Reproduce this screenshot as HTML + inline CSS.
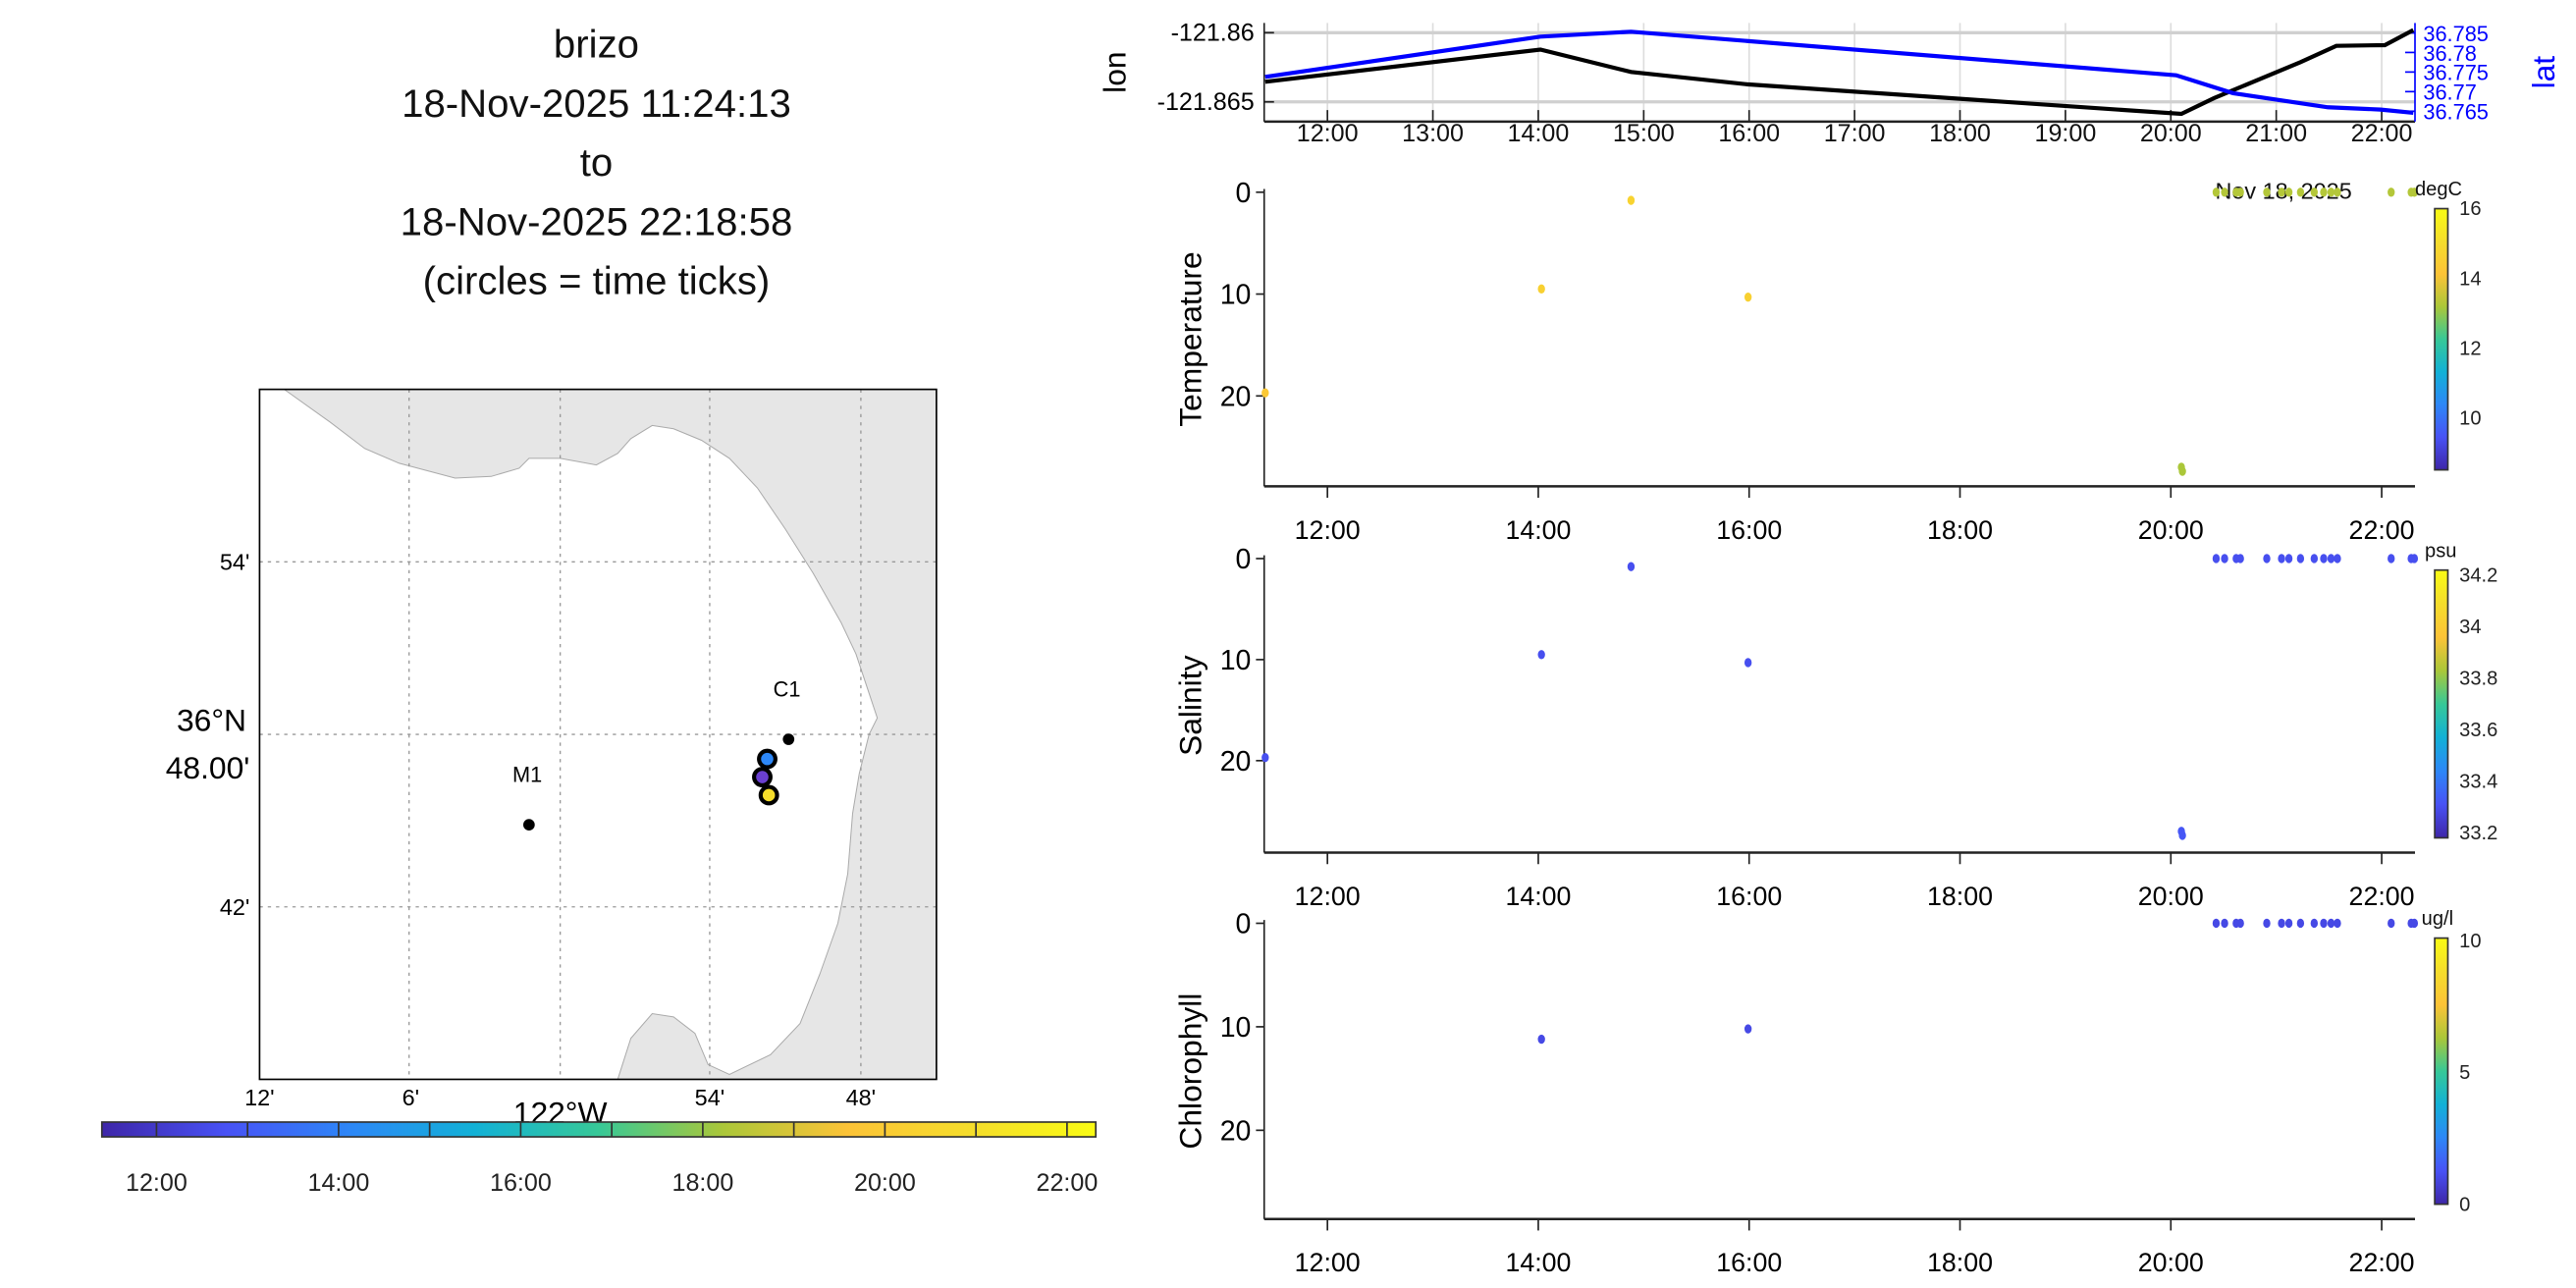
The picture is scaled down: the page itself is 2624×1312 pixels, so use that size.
<!DOCTYPE html>
<html><head><meta charset="utf-8"><style>
html,body{margin:0;padding:0;background:#fff;}
svg{display:block;font-family:"Liberation Sans",sans-serif;}
</style></head><body>
<svg id="s" width="2624" height="1312" viewBox="0 0 1568 784" xmlns="http://www.w3.org/2000/svg">
<defs>
<linearGradient id="parH" x1="0" y1="0" x2="1" y2="0">
<stop offset="0" stop-color="#3e26a8"/><stop offset="0.125" stop-color="#4852f5"/><stop offset="0.25" stop-color="#2d87f7"/><stop offset="0.375" stop-color="#12b1d6"/><stop offset="0.5" stop-color="#37c897"/><stop offset="0.625" stop-color="#abc739"/><stop offset="0.75" stop-color="#fcc337"/><stop offset="0.875" stop-color="#f5dd2b"/><stop offset="1" stop-color="#f9fb14"/></linearGradient>
<linearGradient id="parV" x1="0" y1="1" x2="0" y2="0">
<stop offset="0" stop-color="#3e26a8"/><stop offset="0.125" stop-color="#4852f5"/><stop offset="0.25" stop-color="#2d87f7"/><stop offset="0.375" stop-color="#12b1d6"/><stop offset="0.5" stop-color="#37c897"/><stop offset="0.625" stop-color="#abc739"/><stop offset="0.75" stop-color="#fcc337"/><stop offset="0.875" stop-color="#f5dd2b"/><stop offset="1" stop-color="#f9fb14"/></linearGradient>
</defs>
<g font-size="24" text-anchor="middle" fill="#111">
<text x="363" y="35">brizo</text><text x="363" y="71">18-Nov-2025 11:24:13</text><text x="363" y="107">to</text><text x="363" y="143">18-Nov-2025 22:18:58</text><text x="363" y="179">(circles = time ticks)</text>
</g>
<g id="mapg"></g>
<g id="cbar"></g>
<g id="topg"></g>
<g id="prof"></g>
</svg>
<script>
// ---- data ----
const lonTimes=[11.41,14.02,14.88,15.98,20.10,20.41,21.23,21.57,22.03,22.30];
const lonVals=[-121.86355,-121.86122,-121.86284,-121.86373,-121.86587,-121.86473,-121.86213,-121.86095,-121.8609,-121.85981];
const latTimes=[11.41,14.02,14.88,20.05,20.59,21.49,21.99,22.30];
const latVals=[36.77376,36.78404,36.78529,36.77418,36.76961,36.76601,36.76542,36.76458];
const profTimes=[11.41,14.03,14.88,15.99,20.10,20.11,20.43,20.51,20.62,20.66,20.91,21.05,21.12,21.23,21.36,21.45,21.52,21.58,22.09,22.28,22.31];
const profDepths=[19.7,9.5,0.8,10.3,27.0,27.4,0,0,0,0,0,0,0,0,0,0,0,0,0,0,0];
const tempVals=[14.3,14.6,14.7,14.6,13.2,13.2,13.3,13.3,13.3,13.3,13.3,13.3,13.3,13.3,13.3,13.3,13.3,13.3,13.3,13.3,13.3];
const salVals=[33.3,33.3,33.3,33.3,33.32,33.32,33.3,33.3,33.3,33.3,33.3,33.3,33.3,33.3,33.3,33.3,33.3,33.3,33.3,33.3,33.3];
const chlTimes=[14.03,15.99,20.43,20.51,20.62,20.66,20.91,21.05,21.12,21.23,21.36,21.45,21.52,21.58,22.09,22.28,22.31];
const chlDepths=[11.2,10.2,0,0,0,0,0,0,0,0,0,0,0,0,0,0,0];
const chlVals=[1,1,1,1,1,1,1,1,1,1,1,1,1,1,1,1,1];
const hourTicks=[12,13,14,15,16,17,18,19,20,21,22];
const evenTicks=[12,14,16,18,20,22];
const lonTicks=[-121.86,-121.865];
const latTicks=[36.785,36.78,36.775,36.77,36.765];
const mapLonTicks=["12'","6'","","54'","48'"];
const mapLatTicks=["54'","48.00'","42'"];
const tempCbTicks=[16,14,12,10];
const salCbTicks=[34.2,34,33.8,33.6,33.4,33.2];
const chlCbTicks=[10,5,0];
const mapPoints=[[480,450,'#000',0],[467,462,'#2d87f7',1],[464,473,'#6a3fd0',1],[468,484,'#f5dd2b',1],[322,502,'#000',0]];

const NS="http://www.w3.org/2000/svg";
function E(p,t,a,txt){const e=document.createElementNS(NS,t);for(const k in a)e.setAttribute(k,a[k]);if(txt!==undefined)e.textContent=txt;p.appendChild(e);return e;}
const stops=[[0,[62,38,168]],[0.125,[72,82,245]],[0.25,[45,135,247]],[0.375,[18,177,214]],[0.5,[55,200,151]],[0.625,[171,199,57]],[0.75,[252,195,55]],[0.875,[245,221,43]],[1,[249,251,20]]];
function parula(t){t=Math.max(0,Math.min(1,t));for(let i=1;i<stops.length;i++){if(t<=stops[i][0]){const a=stops[i-1],b=stops[i],f=(t-a[0])/(b[0]-a[0]);const c=a[1].map((v,j)=>Math.round(v+(b[1][j]-v)*f));return`rgb(${c})`;}}return'rgb(249,251,20)';}
const X0=769.5,X1=1470,T0=11.4,T1=22.316;
const xT=t=>X0+(t-T0)/(T1-T0)*(X1-X0);
const hh=h=>(h<10?'0':'')+h+':00';

// ---- map ----
const mapG=document.getElementById('mapg');
E(mapG,'rect',{x:158,y:237,width:412,height:420,fill:'#fff'});
const coast=[[173,237],[201,257],[222,273],[243,282],[277,291],[299,290],[316,285],[322,279],[341,279],[363,283],[376,276],[384,267],[397,259],[410,261],[427,268],[444,279],[461,297],[478,322],[495,349],[512,379],[521,398],[529,422],[534,437],[529,447],[523,471],[519,495],[516,532],[510,562],[499,593],[487,623],[469,642],[444,654],[431,648],[423,629],[410,619],[397,617],[384,632],[376,657],[570,657],[570,237]];
let land=E(mapG,'polygon',{points:coast.map(p=>p.join(',')).join(' '),fill:'#e6e6e6',stroke:'#aaa','stroke-width':0.6});


[249,341,432,524].forEach(x=>E(mapG,'line',{x1:x,y1:237,x2:x,y2:657,stroke:'#999','stroke-dasharray':'2,3','stroke-width':0.8}));
[342,447,552].forEach(y=>E(mapG,'line',{x1:158,y1:y,x2:570,y2:y,stroke:'#999','stroke-dasharray':'2,3','stroke-width':0.8}));
E(mapG,'rect',{x:158,y:237,width:412,height:420,fill:'none',stroke:'#000','stroke-width':1});
[158,250,341,432,524].forEach((x,i)=>{if(mapLonTicks[i])E(mapG,'text',{x:x,y:673,'font-size':14,'text-anchor':'middle'},mapLonTicks[i]);});
E(mapG,'text',{x:341,y:684,'font-size':19,'text-anchor':'middle'},'122\u00B0W');
E(mapG,'text',{x:152,y:347,'font-size':14,'text-anchor':'end'},mapLatTicks[0]);
E(mapG,'text',{x:150,y:445,'font-size':19,'text-anchor':'end'},'36\u00B0N');
E(mapG,'text',{x:152,y:474,'font-size':19,'text-anchor':'end'},mapLatTicks[1]);
E(mapG,'text',{x:152,y:557,'font-size':14,'text-anchor':'end'},mapLatTicks[2]);
E(mapG,'text',{x:479,y:424,'font-size':13,'text-anchor':'middle'},'C1');
E(mapG,'text',{x:321,y:476,'font-size':13,'text-anchor':'middle'},'M1');
mapPoints.forEach(p=>{const c=E(mapG,'circle',p[3]?{cx:p[0],cy:p[1],r:5,fill:p[2],stroke:'#000','stroke-width':2.5}:{cx:p[0],cy:p[1],r:3.5,fill:'#000'});

});

// ---- time colorbar ----
const cbG=document.getElementById('cbar');
E(cbG,'rect',{x:62,y:683,width:605,height:9,fill:'url(#parH)',stroke:'#333','stroke-width':1});
const cx=t=>62+(t-T0)/(T1-T0)*605;
evenTicks.forEach(t=>{E(cbG,'line',{x1:cx(t),y1:683,x2:cx(t),y2:692,stroke:'#333'});E(cbG,'text',{x:cx(t),y:725,'font-size':15,'text-anchor':'middle',fill:'#222'},hh(t));});
[13,15,17,19,21].forEach(t=>E(cbG,'line',{x1:cx(t),y1:683,x2:cx(t),y2:692,stroke:'#333'}));

// ---- top lon/lat panel ----
const topG=document.getElementById('topg');
const yLon=v=>19.9+(-121.86-v)/0.001*8.42;
const yLat=v=>20+(36.785-v)/0.001*2.385;
hourTicks.forEach(h=>E(topG,'line',{x1:xT(h),y1:14,x2:xT(h),y2:71,stroke:'#ddd','stroke-width':1}));
lonTicks.forEach(v=>E(topG,'line',{x1:X0,y1:yLon(v),x2:X1,y2:yLon(v),stroke:'#d0d0d0','stroke-width':2}));
E(topG,'line',{x1:X0,y1:14,x2:X0,y2:74,stroke:'#222'});
E(topG,'line',{x1:X0,y1:74,x2:X1,y2:74,stroke:'#222','stroke-width':1.5});
E(topG,'line',{x1:X1,y1:14,x2:X1,y2:74,stroke:'#00f'});
hourTicks.forEach(h=>{E(topG,'line',{x1:xT(h),y1:67,x2:xT(h),y2:74,stroke:'#222'});E(topG,'text',{x:xT(h),y:86,'font-size':15,'text-anchor':'middle',fill:'#111'},hh(h));});
lonTicks.forEach(v=>{E(topG,'line',{x1:X0,y1:yLon(v),x2:X0+6,y2:yLon(v),stroke:'#222'});E(topG,'text',{x:X0-6,y:yLon(v)+5,'font-size':15,'text-anchor':'end'},String(v));});
latTicks.forEach(v=>{E(topG,'line',{x1:X1,y1:yLat(v),x2:X1-6,y2:yLat(v),stroke:'#00f'});E(topG,'text',{x:X1+5,y:yLat(v)+5,'font-size':13,fill:'#00f'},String(v));});
E(topG,'text',{x:685,y:44,'font-size':19,'text-anchor':'middle',transform:'rotate(-90 685 44)'},'lon');
E(topG,'text',{x:1555,y:44,'font-size':19,'text-anchor':'middle',fill:'#00f',transform:'rotate(-90 1555 44)'},'lat');
let lonL=E(topG,'polyline',{points:lonTimes.map((t,i)=>xT(t)+','+yLon(lonVals[i])).join(' '),fill:'none',stroke:'#000','stroke-width':2.5});


let latL=E(topG,'polyline',{points:latTimes.map((t,i)=>xT(t)+','+yLat(latVals[i])).join(' '),fill:'none',stroke:'#00f','stroke-width':2.5});



// ---- profile panels ----
const prof=document.getElementById('prof');
function panel(name,y0,y20,yb,times,depths,vals,vmin,vmax,cbTop,cbBot,cbTicks,unit,ux,dateLbl){
  const g=E(prof,'g',{});
  
  
  const yD=d=>y0+d/20*(y20-y0);
  E(g,'line',{x1:X0,y1:y0-2,x2:X0,y2:yb,stroke:'#222'});
  E(g,'line',{x1:X0,y1:yb,x2:X1,y2:yb,stroke:'#222','stroke-width':1.5});
  [0,10,20].forEach(d=>{E(g,'line',{x1:X0-5,y1:yD(d),x2:X0,y2:yD(d),stroke:'#222'});E(g,'text',{x:X0-8,y:yD(d)+6,'font-size':17,'text-anchor':'end'},String(d));});
  evenTicks.forEach(h=>{E(g,'line',{x1:xT(h),y1:yb,x2:xT(h),y2:yb+7,stroke:'#222'});E(g,'text',{x:xT(h),y:yb+32,'font-size':16,'text-anchor':'middle'},hh(h));});
  const ym=(y0+yb)/2;
  E(g,'text',{x:731,y:ym,'font-size':19,'text-anchor':'middle',transform:`rotate(-90 731 ${ym})`},name);
  if(dateLbl)E(g,'text',{x:1390,y:y0+4,'font-size':14,'text-anchor':'middle',fill:'#111'},dateLbl);
  times.forEach((t,i)=>{const c=E(g,'ellipse',{cx:xT(t),cy:yD(depths[i]),rx:2.2,ry:2.8,fill:parula((vals[i]-vmin)/(vmax-vmin))});
    
    });
  E(g,'rect',{x:1482,y:cbTop,width:8,height:cbBot-cbTop,fill:'url(#parV)',stroke:'#333','stroke-width':1});
  cbTicks.forEach(v=>{const y=cbBot-(v-vmin)/(vmax-vmin)*(cbBot-cbTop);E(g,'text',{x:1497,y:y+4,'font-size':12,fill:'#222'},String(v));});
  E(g,'text',{x:ux,y:cbTop-8,'font-size':12,fill:'#111'},unit);
}
panel('Temperature',117,241,296,profTimes,profDepths,tempVals,8.52,16,127,286,tempCbTicks,'degC',1470,'Nov 18, 2025');
panel('Salinity',340,463,519,profTimes,profDepths,salVals,33.18,34.22,347,510,salCbTicks,'psu',1476,'');
panel('Chlorophyll',562,688,742,chlTimes,chlDepths,chlVals,0,10.1,571,733,chlCbTicks,'ug/l',1474,'');
</script>
</body></html>
